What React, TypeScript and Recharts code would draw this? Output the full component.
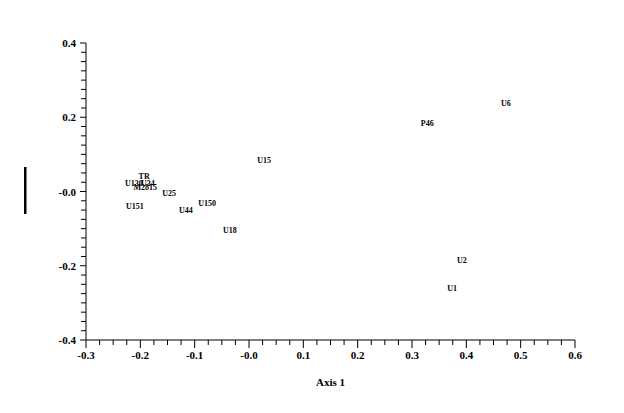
import { ScatterChart, Scatter, XAxis, YAxis } from "recharts";

const labels = ["U6", "P46", "U15", "U2", "U1", "U18", "U150", "U44", "U25", "U151", "TR", "U130", "U34", "M2815"];
const axis1 = [0.473, 0.328, 0.028, 0.392, 0.374, -0.035, -0.077, -0.116, -0.147, -0.210, -0.193, -0.212, -0.186, -0.191];
const axis2 = [0.238, 0.184, 0.086, -0.184, -0.259, -0.103, -0.030, -0.049, -0.005, -0.038, 0.043, 0.024, 0.022, 0.012];

const xTicks: number[] = [];
for (let i = -12; i <= 24; i++) xTicks.push(i * 0.025);
const yTicks: number[] = [];
for (let i = -16; i <= 16; i++) yTicks.push(i * 0.025);

const points = labels.map((name, i) => ({ name, x: axis1[i], y: axis2[i] }));

const font = "Liberation Serif, Times New Roman, serif";
const txt = { fontFamily: font, fontWeight: 700 as const, fill: "#000" };

const fmt = (v: number) => (Math.abs(v) < 1e-9 ? "-0.0" : v.toFixed(1));

function XTick(props: any) {
  const { x, y, payload } = props;
  const v = payload.value as number;
  const major = Math.abs(v * 10 - Math.round(v * 10)) < 1e-6;
  return (
    <g>
      <line x1={x} x2={x} y1={y} y2={y + (major ? 8 : 5)} stroke="#000" strokeWidth={1} />
      {major && (
        <text x={x} y={y + 19} textAnchor="middle" style={{ ...txt, fontSize: 11 }}>
          {fmt(v)}
        </text>
      )}
    </g>
  );
}

function YTick(props: any) {
  const { x, y, payload } = props;
  const v = payload.value as number;
  const major = Math.abs(v * 5 - Math.round(v * 5)) < 1e-6;
  return (
    <g>
      <line x1={x} x2={x - (major ? 6 : 5)} y1={y} y2={y} stroke="#000" strokeWidth={1} />
      {major && (
        <text x={x - 10} y={y + 4} textAnchor="end" style={{ ...txt, fontSize: 11 }}>
          {fmt(v)}
        </text>
      )}
    </g>
  );
}

function PointLabel(props: any) {
  const { cx, cy, payload } = props;
  return (
    <text x={cx} y={cy + 3} textAnchor="middle" style={{ ...txt, fontSize: 8 }}>
      {payload.name}
    </text>
  );
}

export default function App() {
  return (
    <div style={{ position: "absolute", left: 0, top: 0, background: "#fff" }}>
      <ScatterChart width={624} height={413} margin={{ top: 43, right: 49, bottom: 33, left: 26 }}>
        <XAxis
          type="number"
          dataKey="x"
          domain={[-0.3, 0.6]}
          ticks={xTicks}
          interval={0}
          tickSize={0}
          tickMargin={0}
          tickLine={false}
          tick={<XTick />}
          height={40}
          axisLine={{ stroke: "#000" }}
          allowDataOverflow
          label={{
            value: "Axis 1",
            position: "insideBottom",
            offset: -6,
            style: { ...txt, fontSize: 11 },
          }}
        />
        <YAxis
          type="number"
          dataKey="y"
          domain={[-0.4, 0.4]}
          ticks={yTicks}
          interval={0}
          tickSize={0}
          tickMargin={0}
          tickLine={false}
          tick={<YTick />}
          width={60}
          axisLine={{ stroke: "#000" }}
          allowDataOverflow
          label={{ content: () => <rect x={24} y={167} width={2.5} height={47} fill="#000" /> }}
        />
        <Scatter data={points} shape={<PointLabel />} isAnimationActive={false} />
      </ScatterChart>
    </div>
  );
}
